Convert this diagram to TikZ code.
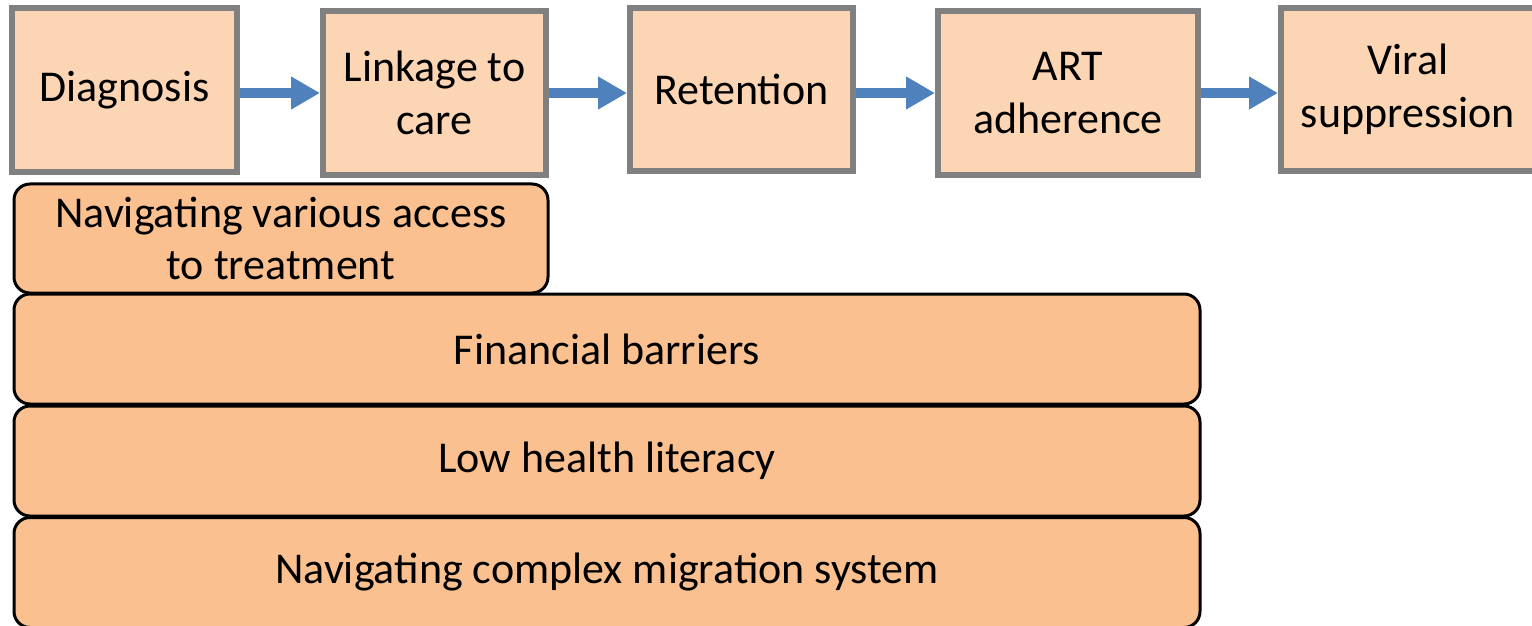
\documentclass[tikz,border=0pt]{standalone}
\usepackage{fontspec}
\setmainfont{Carlito}
\usetikzlibrary{arrows.meta}
\definecolor{stagefill}{HTML}{FCD5B5}
\definecolor{stageline}{HTML}{808080}
\definecolor{barfill}{HTML}{FAC090}
\definecolor{flowblue}{HTML}{4F81BD}
\tikzset{
  stagebox/.style={draw=stageline, fill=stagefill, line width=3pt,
    inner sep=0pt, align=center, font=\fontsize{22}{26.4}\selectfont},
  barrierbox/.style={draw=black, fill=barfill, line width=1.5pt,
    rounded corners=8pt, inner sep=0pt, align=center,
    font=\fontsize{22}{26.4}\selectfont},
  flow/.style={draw=flowblue, line width=5pt,
    -{Triangle[length=14.5pt, width=15.5pt]}},
  flowshadow/.style={draw=black!25, line width=3pt, opacity=0.6},
}
\begin{document}
\begin{tikzpicture}[x=0.5pt, y=-0.5pt]
  \useasboundingbox (0,0) rectangle (1532,626);

  % care-cascade stages
  \node[stagebox, minimum width=112.5pt, minimum height=82pt] (d) at (124.5,90) {Diagnosis};
  \node[stagebox, minimum width=111.5pt, minimum height=82pt] (l) at (434.5,93) {Linkage to\\care};
  \node[stagebox, minimum width=111.5pt, minimum height=81.5pt] (r) at (741.5,89.5) {Retention};
  \node[stagebox, minimum width=130pt, minimum height=82pt] (a) at (1068,93) {ART\\adherence};
  \node[stagebox, minimum width=127pt, minimum height=81.5pt] (v) at (1408,89.5) {Viral\\suppression};

  % barriers stacked under the cascade
  \node[barrierbox, minimum width=267pt, minimum height=54.5pt] (b1) at (281,238.5) {Navigating various access\\to treatment};
  \node[barrierbox, minimum width=593pt, minimum height=55pt] (b2) at (607,349) {Financial barriers};
  \node[barrierbox, minimum width=593pt, minimum height=55pt] (b3) at (607,461) {Low health literacy};
  \node[barrierbox, minimum width=593pt, minimum height=55pt] (b4) at (607,572.5) {Navigating complex migration system};

  % soft shadows under the flow arrows
  \begin{scope}[yshift=-2.5pt]
    \path[flowshadow] (d.east |- l.west) -- ([xshift=-14pt]l.west);
    \path[flowshadow] (l.east) -- ([xshift=-14pt]r.west |- l.east);
    \path[flowshadow] (r.east |- a.west) -- ([xshift=-14pt]a.west);
    \path[flowshadow] (a.east) -- ([xshift=-14pt]v.west |- a.east);
  \end{scope}

  % flow arrows between stages
  \draw[flow] (d.east |- l.west) -- (l.west);
  \draw[flow] (l.east) -- (r.west |- l.east);
  \draw[flow] (r.east |- a.west) -- (a.west);
  \draw[flow] (a.east) -- (v.west |- a.east);
\end{tikzpicture}
\end{document}
